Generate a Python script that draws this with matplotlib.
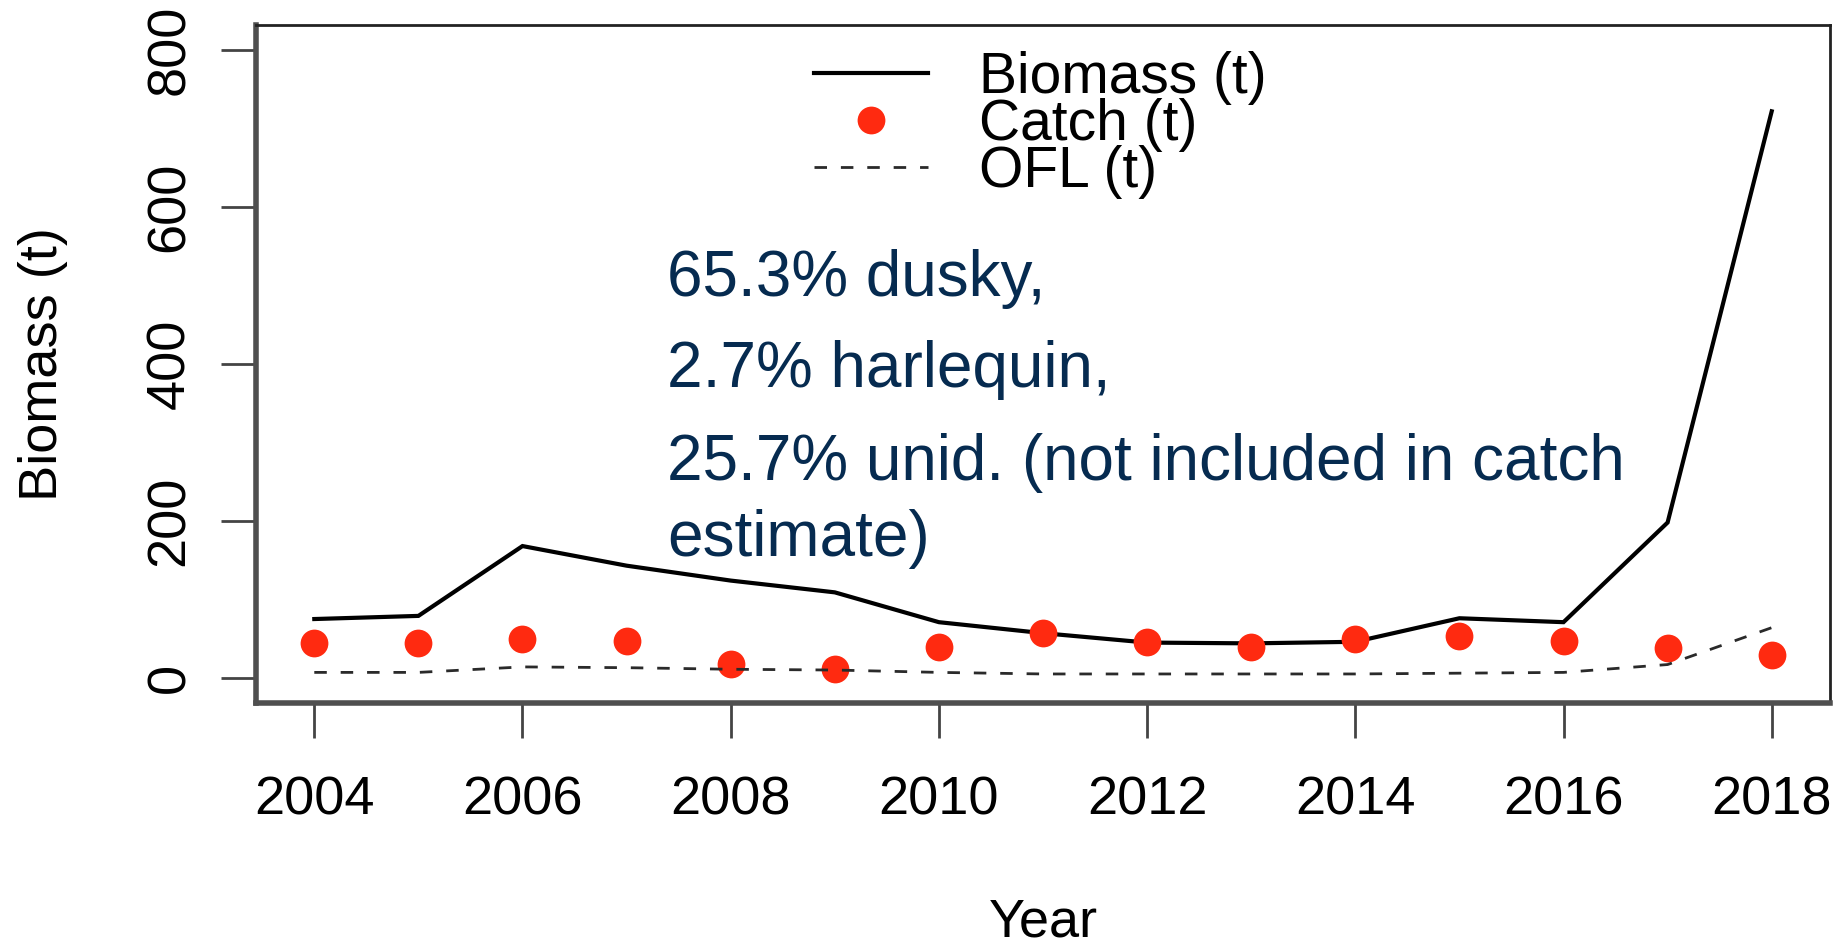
import matplotlib
matplotlib.use("Agg")
import matplotlib.pyplot as plt

years = [2004, 2005, 2006, 2007, 2008, 2009, 2010, 2011, 2012, 2013, 2014, 2015, 2016, 2017, 2018]
biomass = [75, 79, 168, 143, 124, 109, 71, 57, 45, 44, 46, 76, 71, 198, 722]
catch = [45, 45, 49, 47, 18, 11, 39, 57, 46, 40, 50, 53, 47, 38, 29]
ofl = [7, 7, 14, 13, 11, 10, 7, 5, 5, 5, 5, 6, 7, 17, 64]
xticks = [2004, 2006, 2008, 2010, 2012, 2014, 2016, 2018]
yticks = [0, 200, 400, 600, 800]
notes = ["65.3% dusky,", "2.7% harlequin,", "25.7% unid. (not included in catch", "estimate)"]

plt.rcParams['font.family'] = ['Liberation Sans', 'DejaVu Sans']
FS = 39
W, H = 1837, 944
fig = plt.figure(figsize=(W / 100, H / 100), dpi=100)
L, R, T, B = 256, 1830, 25, 703
ax = fig.add_axes([L / W, 1 - B / H, (R - L) / W, (B - T) / H])

ax.plot(years, biomass, color='black', lw=3.0, solid_joinstyle='miter', label='Biomass (t)')
ax.plot(years, catch, 'o', color='#ff2a10', ms=20, mec='none', ls='none', label='Catch (t)')
ax.plot(years, ofl, color='#2a2a2a', lw=2.0, dashes=(4.5, 5), label='OFL (t)')

ax.set_xlim(2003.44, 2018.56)
ax.set_ylim(-32, 832)
ax.set_xticks(xticks)
ax.set_yticks(yticks)
ax.set_xticklabels([str(v) for v in xticks], fontsize=FS)
ax.set_yticklabels([str(v) for v in yticks], fontsize=FS, rotation=90, va='center')
ax.tick_params(axis='both', length=25, width=2.0, color='#444444', direction='out')
ax.tick_params(axis='x', pad=27)
ax.tick_params(axis='y', pad=19)

for s in ['left', 'bottom']:
    ax.spines[s].set_linewidth(4)
    ax.spines[s].set_color('#4f4f4f')
for s in ['top', 'right']:
    ax.spines[s].set_linewidth(2)
    ax.spines[s].set_color('#222222')

ax.set_xlabel('Year', fontsize=FS, labelpad=52)
ax.set_ylabel('Biomass (t)', fontsize=FS, labelpad=55)

leg = ax.legend(loc='upper left', bbox_to_anchor=((814 - L) / (R - L), 1 - (51 - T) / (B - T)),
                frameon=False, fontsize=41, handlelength=2.0, handletextpad=0.9,
                labelspacing=-0.12, borderpad=0, borderaxespad=0)

note_color = '#062b50'
baselines = [296, 387, 480, 556]
for txt, yb in zip(notes, baselines):
    fig.text(667 / W, 1 - yb / H, txt, fontsize=46, color=note_color, ha='left', va='baseline')

fig.savefig('out.png', dpi=100)
